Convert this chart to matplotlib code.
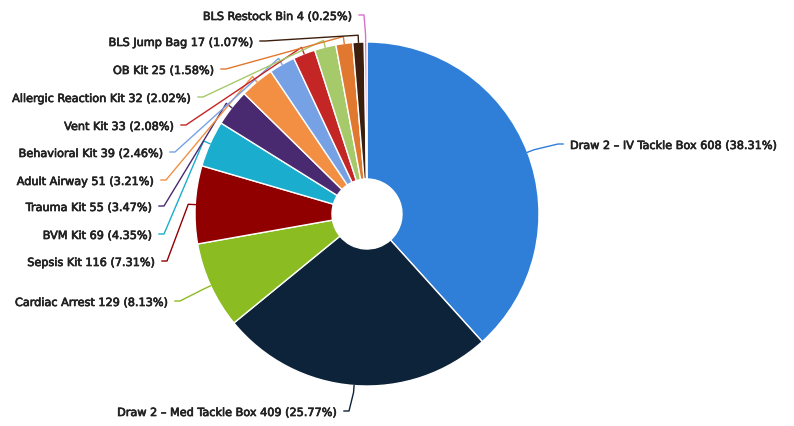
import numpy as np
import matplotlib
matplotlib.use("Agg")
import matplotlib.pyplot as plt
import matplotlib.patheffects as pe

kits = ["Draw 2 – IV Tackle Box", "Draw 2 – Med Tackle Box", "Cardiac Arrest",
        "Sepsis Kit", "BVM Kit", "Trauma Kit", "Adult Airway", "Behavioral Kit",
        "Vent Kit", "Allergic Reaction Kit", "OB Kit", "BLS Jump Bag",
        "BLS Restock Bin"]
counts = [608, 409, 129, 116, 69, 55, 51, 39, 33, 32, 25, 17, 4]

colors = ["#2f7ed8", "#0d233a", "#8bbc21", "#910000", "#1aadce", "#492970",
          "#f28f43", "#77a1e5", "#c42525", "#a6c96a", "#e0782f", "#3b1e0e",
          "#d873c8"]

W, H = 794, 426
cx, cy = 367, H - 214
R, r_hole = 172, 35

# where each data label sits (pixel x of the text edge facing the pie, pixel y from top)
label_pos = [(570, 146), (337, 413), (168, 303), (155, 263), (152, 236),
             (152, 208), (154, 182), (163, 154), (174, 127), (191, 99),
             (214, 71), (253, 43), (352, 17)]

total = sum(counts)

fig = plt.figure(figsize=(W / 100, H / 100), dpi=100)
ax = fig.add_axes([0, 0, 1, 1])

wedges, _ = ax.pie(counts, colors=colors, startangle=90, counterclock=False,
                   center=(cx, cy), radius=R,
                   wedgeprops=dict(width=R - r_hole, edgecolor="white", linewidth=1))

# slightly heavier label text
heavy = [pe.withStroke(linewidth=0.5, foreground="#222222")]

for w, name, n, (lx, ly), c in zip(wedges, kits, counts, label_pos, colors):
    mid = np.deg2rad((w.theta1 + w.theta2) / 2)
    d = np.array([np.cos(mid), np.sin(mid)])
    edge = np.array([cx, cy]) + R * d
    brk = np.array([cx, cy]) + (R + 7) * d
    y = H - ly
    left_side = d[0] < 0
    sgn = 1 if left_side else -1
    xs = [lx + sgn * 7, lx + sgn * 12, brk[0], edge[0]]
    ys = [y + 2, y + 2, brk[1], edge[1]]
    ax.plot(xs, ys, color=c, lw=1, solid_joinstyle="round")
    ax.text(lx, y, f"{name} {n} ({100 * n / total:.2f}%)",
            ha="right" if left_side else "left", va="center",
            fontsize=8.1, color="#222222", family="DejaVu Sans",
            path_effects=heavy)

ax.set_xlim(0, W)
ax.set_ylim(0, H)
ax.set_aspect("equal")
ax.axis("off")

fig.savefig("out.png", dpi=100, facecolor="white")
